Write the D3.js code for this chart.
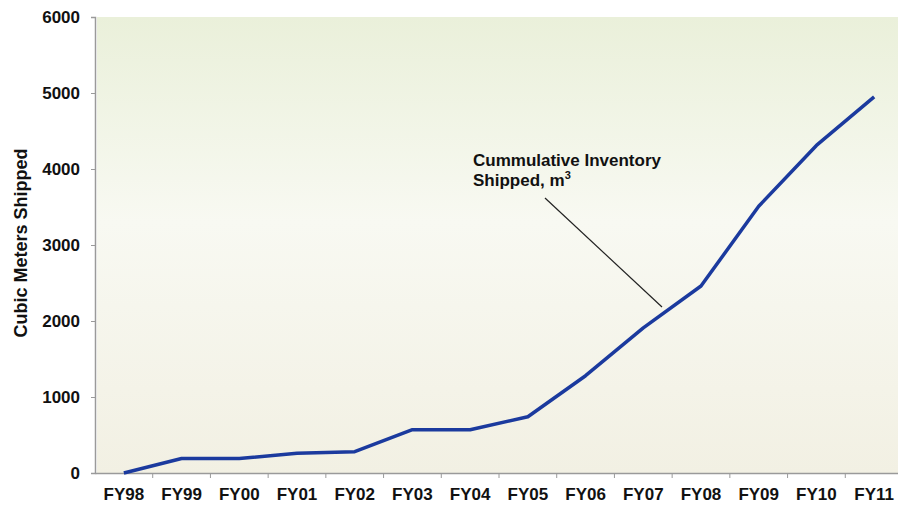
<!DOCTYPE html>
<html>
<head>
<meta charset="utf-8">
<script src="https://cdn.jsdelivr.net/npm/d3@7"></script>
<style>
  body { margin: 0; background: #fff; }
  svg { display: block; font-family: Arial, "Liberation Sans", sans-serif; }
</style>
</head>
<body>
<svg id="chart" width="898" height="506"></svg>
<script>
var years = ["FY98", "FY99", "FY00", "FY01", "FY02", "FY03", "FY04", "FY05", "FY06", "FY07", "FY08", "FY09", "FY10", "FY11"];
var shipped = [0, 190, 190, 260, 280, 570, 570, 740, 1280, 1910, 2460, 3510, 4310, 4950];
var yTicks = [0, 1000, 2000, 3000, 4000, 5000, 6000];
var noteLines = ["Cummulative Inventory", "Shipped, m"];

var svg = d3.select("#chart");
var margin = {left: 95, right: -5, top: 17, bottom: 33};
var width = 898 - margin.left - margin.right,
    height = 506 - margin.top - margin.bottom;

var x = d3.scaleBand().domain(years).range([0, width]);
var y = d3.scaleLinear().domain([0, 6000]).range([height, 0]);

var defs = svg.append("defs");
var grad = defs.append("linearGradient").attr("id", "bg").attr("x1", 0).attr("y1", 0).attr("x2", 0).attr("y2", 1);
grad.append("stop").attr("offset", "0%").attr("stop-color", "#eaf0da");
grad.append("stop").attr("offset", "45%").attr("stop-color", "#f8f9f2");
grad.append("stop").attr("offset", "100%").attr("stop-color", "#f2f0e3");

var g = svg.append("g").attr("transform", "translate(" + margin.left + "," + margin.top + ")");

g.append("rect")
    .attr("x", 2).attr("y", 0)
    .attr("width", width).attr("height", height)
    .attr("fill", "url(#bg)");

// y axis
var yAxis = g.append("g").call(d3.axisLeft(y).tickValues(yTicks).tickSize(4).tickPadding(11).tickFormat(d3.format("d")));
yAxis.select(".domain").attr("stroke", "#9a9a9a").attr("stroke-width", 1.5);
yAxis.selectAll(".tick line").attr("stroke", "#9a9a9a");
yAxis.selectAll("text").attr("font-size", 17).attr("font-weight", "bold").attr("fill", "#111")
    .attr("font-family", "Arial, 'Liberation Sans', sans-serif");

// x axis
var xAxis = g.append("g").attr("transform", "translate(0," + height + ")")
    .call(d3.axisBottom(x).tickSize(0).tickPadding(15));
xAxis.select(".domain").attr("stroke", "#9a9a9a").attr("stroke-width", 1.5);
xAxis.selectAll("text").attr("font-size", 17).attr("font-weight", "bold").attr("fill", "#111")
    .attr("font-family", "Arial, 'Liberation Sans', sans-serif");
// ticks between categories
g.append("g").selectAll("line").data(years.slice(1)).enter().append("line")
    .attr("x1", function (d) { return x(d); })
    .attr("x2", function (d) { return x(d); })
    .attr("y1", height).attr("y2", height + 5)
    .attr("stroke", "#9a9a9a");

// y axis title
svg.append("text")
    .attr("transform", "translate(27,243) rotate(-90)")
    .attr("text-anchor", "middle")
    .attr("font-size", 18)
    .attr("font-weight", "bold")
    .attr("fill", "#111")
    .text("Cubic Meters Shipped");

// the series
var line = d3.line()
    .x(function (d, i) { return x(years[i]) + x.bandwidth() / 2; })
    .y(function (d) { return y(d); });

g.append("path")
    .datum(shipped)
    .attr("d", line)
    .attr("fill", "none")
    .attr("stroke", "#1b3a9e")
    .attr("stroke-width", 3.5)
    .attr("stroke-linejoin", "round");

// annotation
var note = svg.append("text")
    .attr("font-size", 17)
    .attr("font-weight", "bold")
    .attr("fill", "#111");
note.append("tspan").attr("x", 473).attr("y", 166).text(noteLines[0]);
var second = note.append("tspan").attr("x", 473).attr("y", 186).text(noteLines[1]);
note.append("tspan").attr("dy", -7).attr("font-size", 11).text("3");

svg.append("line")
    .attr("x1", 545).attr("y1", 198)
    .attr("x2", 662).attr("y2", 307)
    .attr("stroke", "#222")
    .attr("stroke-width", 1.2);
</script>
</body>
</html>
